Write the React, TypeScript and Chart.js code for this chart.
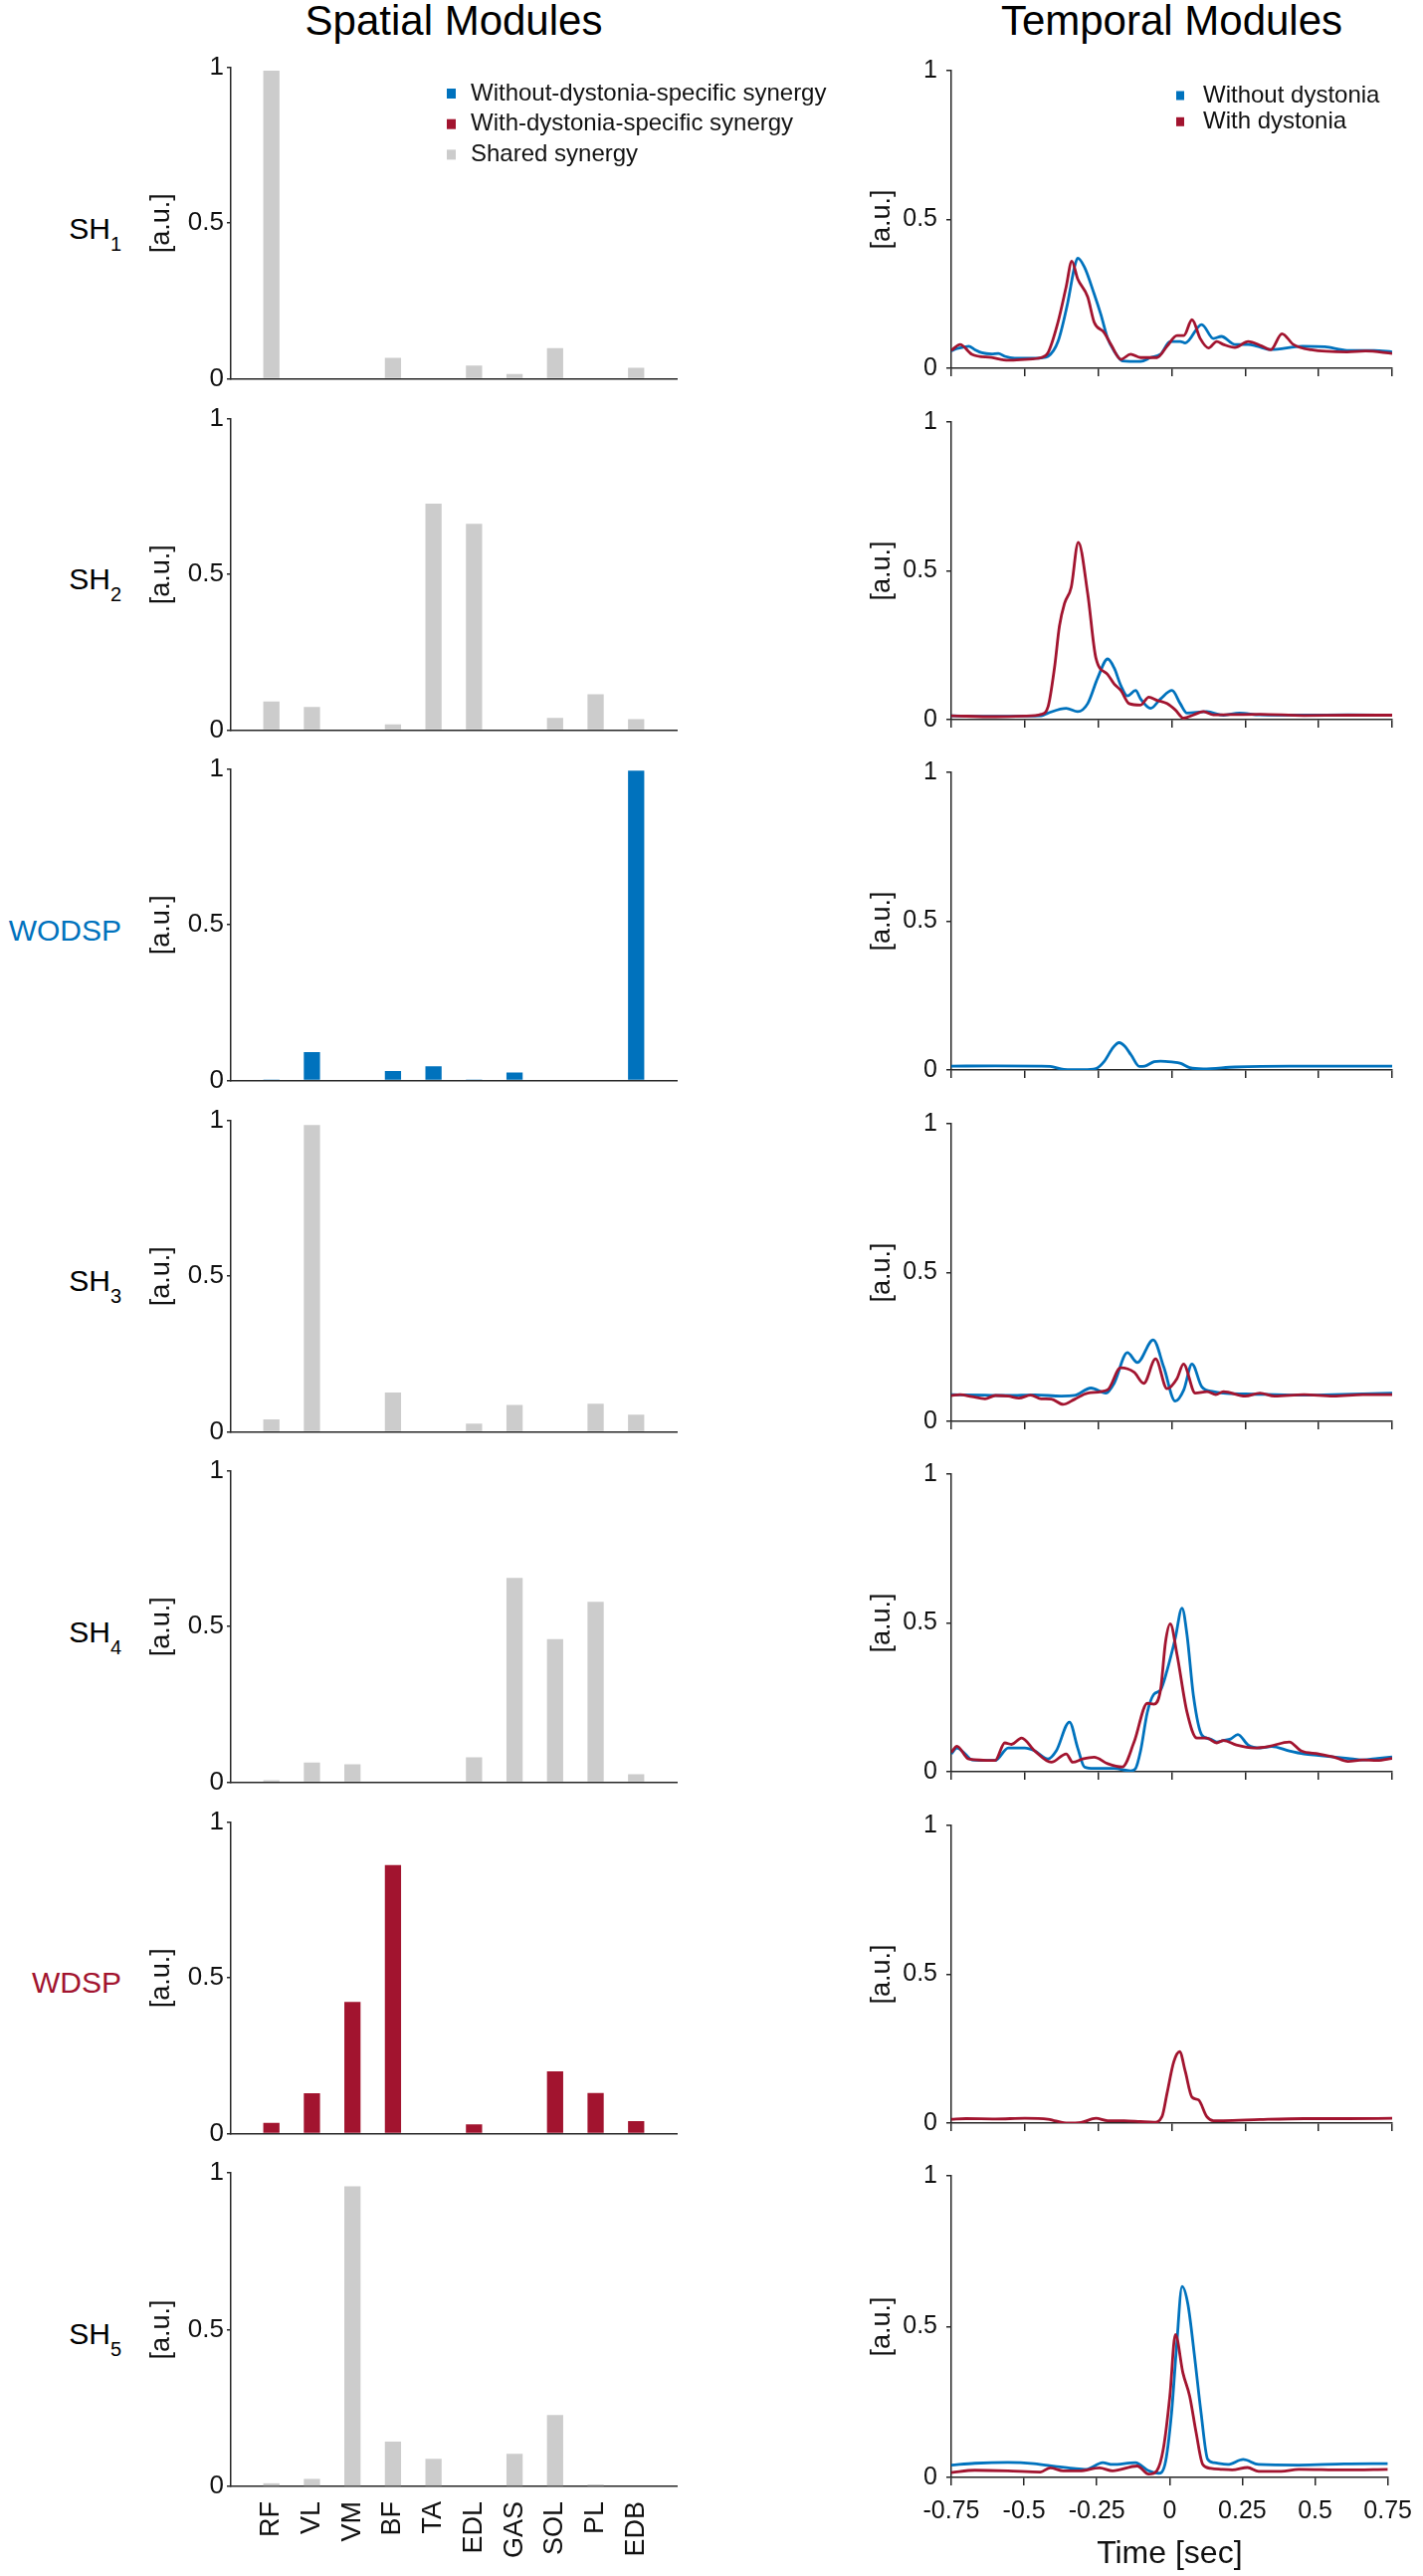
import React, { useEffect, useRef } from 'react';
import { Chart, registerables } from 'chart.js';

Chart.register(...registerables);

const FONT = '"Liberation Sans", Arial, Helvetica, sans-serif';
const BLUE = '#0072BD';
const RED = '#A2142F';
const GRAY = '#CCCCCC';
const AXIS = '#262626';
const TEXT = '#111111';

// ---------- categories & ticks ----------
const MUSCLES = ['RF', 'VL', 'VM', 'BF', 'TA', 'EDL', 'GAS', 'SOL', 'PL', 'EDB'];
const Y_TICKS = [0, 0.5, 1];
const T_TICKS = [-0.75, -0.5, -0.25, 0, 0.25, 0.5, 0.75];

// ---------- spatial modules (weights per muscle) ----------
const SH1_W = [0.99, 0, 0, 0.067, 0, 0.042, 0.015, 0.098, 0, 0.035];
const SH2_W = [0.092, 0.074, 0, 0.018, 0.728, 0.663, 0, 0.039, 0.115, 0.035];
const WODSP_W = [0.003, 0.091, 0, 0.03, 0.045, 0.003, 0.025, 0, 0.002, 0.996];
const SH3_W = [0.04, 0.986, 0, 0.126, 0, 0.026, 0.086, 0, 0.09, 0.055];
const SH4_W = [0.006, 0.063, 0.057, 0, 0, 0.08, 0.657, 0.46, 0.58, 0.025];
const WDSP_W = [0.034, 0.129, 0.423, 0.863, 0, 0.029, 0, 0.2, 0.13, 0.04];
const SH5_W = [0.01, 0.024, 0.957, 0.143, 0.088, 0, 0.104, 0.228, 0.006, 0];

// ---------- temporal modules ([time sec, activation]) ----------
const SH1_BLUE = [[-0.75,0.058],[-0.731,0.066],[-0.703,0.072],[-0.691,0.074],[-0.669,0.062],[-0.646,0.052],[-0.613,0.048],[-0.59,0.05],[-0.568,0.04],[-0.534,0.034],[-0.5,0.034],[-0.466,0.034],[-0.444,0.035],[-0.421,0.04],[-0.387,0.09],[-0.354,0.22],[-0.331,0.34],[-0.32,0.37],[-0.297,0.34],[-0.264,0.25],[-0.241,0.18],[-0.218,0.1],[-0.196,0.058],[-0.168,0.025],[-0.106,0.023],[-0.072,0.036],[-0.038,0.047],[-0.005,0.09],[0.029,0.09],[0.046,0.085],[0.102,0.147],[0.142,0.1],[0.169,0.107],[0.215,0.08],[0.26,0.08],[0.291,0.074],[0.337,0.063],[0.444,0.074],[0.521,0.072],[0.597,0.06],[0.689,0.06],[0.75,0.055]];
const SH1_RED = [[-0.75,0.06],[-0.72,0.08],[-0.68,0.047],[-0.613,0.036],[-0.556,0.027],[-0.5,0.03],[-0.444,0.036],[-0.421,0.052],[-0.387,0.155],[-0.359,0.275],[-0.34,0.36],[-0.32,0.3],[-0.286,0.24],[-0.264,0.155],[-0.23,0.12],[-0.207,0.08],[-0.173,0.03],[-0.14,0.047],[-0.106,0.036],[-0.05,0.036],[-0.016,0.074],[0.018,0.11],[0.041,0.11],[0.069,0.163],[0.097,0.1],[0.125,0.068],[0.153,0.09],[0.176,0.08],[0.215,0.07],[0.26,0.09],[0.306,0.075],[0.337,0.062],[0.375,0.116],[0.414,0.08],[0.475,0.062],[0.597,0.055],[0.659,0.058],[0.75,0.05]];

const SH2_BLUE = [[-0.75,0.013],[-0.6,0.011],[-0.5,0.012],[-0.444,0.013],[-0.421,0.022],[-0.359,0.038],[-0.32,0.027],[-0.286,0.054],[-0.252,0.14],[-0.218,0.204],[-0.196,0.174],[-0.173,0.114],[-0.151,0.08],[-0.123,0.098],[-0.106,0.07],[-0.072,0.038],[-0.038,0.07],[0.001,0.098],[0.029,0.054],[0.052,0.022],[0.119,0.027],[0.176,0.015],[0.23,0.022],[0.3,0.016],[0.45,0.015],[0.6,0.016],[0.75,0.015]];
const SH2_RED = [[-0.75,0.013],[-0.6,0.01],[-0.5,0.012],[-0.444,0.018],[-0.421,0.043],[-0.399,0.174],[-0.382,0.315],[-0.365,0.39],[-0.342,0.445],[-0.318,0.596],[-0.286,0.424],[-0.258,0.207],[-0.218,0.152],[-0.196,0.12],[-0.173,0.098],[-0.145,0.054],[-0.106,0.049],[-0.078,0.076],[-0.05,0.065],[-0.016,0.054],[0.012,0.033],[0.041,0.005],[0.074,0.016],[0.108,0.027],[0.142,0.016],[0.2,0.017],[0.3,0.018],[0.45,0.014],[0.6,0.015],[0.75,0.015]];

const WODSP_BLUE = [[-0.75,0.013],[-0.6,0.014],[-0.45,0.013],[-0.413,0.012],[-0.367,0.002],[-0.3,0.001],[-0.258,0.005],[-0.229,0.03],[-0.2,0.075],[-0.179,0.092],[-0.16,0.08],[-0.138,0.05],[-0.11,0.012],[-0.092,0.013],[-0.06,0.028],[-0.038,0.03],[0.0,0.027],[0.031,0.022],[0.061,0.008],[0.107,0.004],[0.215,0.01],[0.4,0.013],[0.6,0.013],[0.75,0.013]];

const SH3_BLUE = [[-0.75,0.09],[-0.635,0.088],[-0.556,0.087],[-0.466,0.089],[-0.376,0.085],[-0.331,0.087],[-0.275,0.112],[-0.224,0.095],[-0.196,0.128],[-0.151,0.231],[-0.117,0.198],[-0.063,0.274],[-0.027,0.182],[0.012,0.068],[0.041,0.106],[0.069,0.193],[0.102,0.117],[0.142,0.1],[0.176,0.095],[0.25,0.092],[0.35,0.09],[0.45,0.088],[0.55,0.09],[0.65,0.092],[0.75,0.095]];
const SH3_RED = [[-0.75,0.087],[-0.72,0.09],[-0.68,0.083],[-0.635,0.076],[-0.6,0.087],[-0.556,0.085],[-0.52,0.078],[-0.48,0.088],[-0.444,0.076],[-0.41,0.075],[-0.37,0.057],[-0.331,0.074],[-0.286,0.095],[-0.218,0.106],[-0.174,0.18],[-0.128,0.165],[-0.095,0.128],[-0.055,0.21],[-0.016,0.11],[0.018,0.144],[0.04,0.193],[0.08,0.095],[0.12,0.1],[0.15,0.09],[0.176,0.1],[0.25,0.085],[0.3,0.095],[0.35,0.085],[0.45,0.09],[0.55,0.085],[0.65,0.09],[0.75,0.09]];

const SH4_BLUE = [[-0.75,0.06],[-0.731,0.08],[-0.703,0.06],[-0.68,0.04],[-0.601,0.038],[-0.556,0.08],[-0.5,0.08],[-0.466,0.07],[-0.421,0.043],[-0.393,0.07],[-0.348,0.167],[-0.32,0.08],[-0.297,0.016],[-0.264,0.011],[-0.196,0.011],[-0.14,0.003],[-0.123,0.011],[-0.106,0.07],[-0.083,0.2],[-0.061,0.26],[-0.038,0.275],[-0.016,0.34],[0.012,0.448],[0.035,0.55],[0.052,0.46],[0.074,0.254],[0.102,0.124],[0.131,0.11],[0.153,0.1],[0.176,0.105],[0.2,0.11],[0.225,0.125],[0.26,0.09],[0.3,0.08],[0.34,0.085],[0.4,0.07],[0.45,0.06],[0.5,0.055],[0.55,0.05],[0.6,0.045],[0.65,0.04],[0.7,0.045],[0.75,0.05]];
const SH4_RED = [[-0.75,0.065],[-0.731,0.086],[-0.691,0.043],[-0.601,0.038],[-0.568,0.097],[-0.545,0.092],[-0.511,0.113],[-0.466,0.07],[-0.41,0.032],[-0.359,0.06],[-0.337,0.032],[-0.303,0.043],[-0.264,0.049],[-0.218,0.027],[-0.168,0.016],[-0.128,0.1],[-0.083,0.23],[-0.061,0.227],[-0.038,0.275],[-0.021,0.437],[-0.005,0.497],[0.018,0.394],[0.052,0.2],[0.086,0.113],[0.119,0.113],[0.153,0.097],[0.176,0.105],[0.22,0.09],[0.28,0.08],[0.33,0.085],[0.4,0.1],[0.44,0.07],[0.5,0.06],[0.55,0.05],[0.6,0.035],[0.65,0.04],[0.7,0.038],[0.75,0.045]];

const WDSP_RED = [[-0.75,0.013],[-0.7,0.015],[-0.6,0.014],[-0.5,0.016],[-0.421,0.013],[-0.399,0.008],[-0.354,0.0],[-0.309,0.002],[-0.258,0.016],[-0.218,0.008],[-0.162,0.008],[-0.106,0.005],[-0.061,0.003],[-0.033,0.022],[-0.016,0.1],[0.007,0.206],[0.027,0.24],[0.046,0.174],[0.069,0.087],[0.091,0.078],[0.119,0.022],[0.142,0.008],[0.176,0.008],[0.3,0.012],[0.45,0.015],[0.6,0.015],[0.75,0.016]];

const SH5_BLUE = [[-0.75,0.041],[-0.669,0.047],[-0.556,0.05],[-0.466,0.046],[-0.387,0.036],[-0.331,0.03],[-0.286,0.027],[-0.23,0.049],[-0.196,0.043],[-0.117,0.049],[-0.072,0.022],[-0.038,0.014],[-0.016,0.043],[0.007,0.216],[0.024,0.433],[0.043,0.633],[0.063,0.574],[0.086,0.4],[0.108,0.216],[0.131,0.06],[0.153,0.049],[0.2,0.043],[0.253,0.06],[0.306,0.043],[0.444,0.041],[0.6,0.045],[0.75,0.046]];
const SH5_RED = [[-0.75,0.016],[-0.669,0.024],[-0.556,0.022],[-0.444,0.018],[-0.41,0.032],[-0.365,0.022],[-0.309,0.022],[-0.241,0.032],[-0.196,0.022],[-0.111,0.038],[-0.072,0.011],[-0.044,0.022],[-0.021,0.097],[0.001,0.27],[0.02,0.474],[0.046,0.346],[0.069,0.27],[0.091,0.15],[0.114,0.043],[0.142,0.03],[0.176,0.027],[0.215,0.025],[0.268,0.033],[0.306,0.02],[0.383,0.02],[0.444,0.027],[0.6,0.025],[0.75,0.027]];

// ---------- legends ----------
const SPATIAL_LEGEND = [
  { text: 'Without-dystonia-specific synergy', color: BLUE },
  { text: 'With-dystonia-specific synergy', color: RED },
  { text: 'Shared synergy', color: GRAY },
];
const TEMPORAL_LEGEND = [
  { text: 'Without dystonia', color: BLUE },
  { text: 'With dystonia', color: RED },
];

type Curve = { pts: number[][]; color: string };
type Row = { name: string; sub: string; nameColor: string; weights: number[]; barColor: string; curves: Curve[] };

const ROWS: Row[] = [
  { name: 'SH', sub: '1', nameColor: '#000', weights: SH1_W, barColor: GRAY, curves: [{ pts: SH1_BLUE, color: BLUE }, { pts: SH1_RED, color: RED }] },
  { name: 'SH', sub: '2', nameColor: '#000', weights: SH2_W, barColor: GRAY, curves: [{ pts: SH2_BLUE, color: BLUE }, { pts: SH2_RED, color: RED }] },
  { name: 'WODSP', sub: '', nameColor: BLUE, weights: WODSP_W, barColor: BLUE, curves: [{ pts: WODSP_BLUE, color: BLUE }] },
  { name: 'SH', sub: '3', nameColor: '#000', weights: SH3_W, barColor: GRAY, curves: [{ pts: SH3_BLUE, color: BLUE }, { pts: SH3_RED, color: RED }] },
  { name: 'SH', sub: '4', nameColor: '#000', weights: SH4_W, barColor: GRAY, curves: [{ pts: SH4_BLUE, color: BLUE }, { pts: SH4_RED, color: RED }] },
  { name: 'WDSP', sub: '', nameColor: RED, weights: WDSP_W, barColor: RED, curves: [{ pts: WDSP_RED, color: RED }] },
  { name: 'SH', sub: '5', nameColor: '#000', weights: SH5_W, barColor: GRAY, curves: [{ pts: SH5_BLUE, color: BLUE }, { pts: SH5_RED, color: RED }] },
];

// ---------- layout (page px) ----------
const PITCH = 352.5;
const L_TOP0 = 68;
const L_H = 315;
const L_AXIS_X = 232;
const L_AXIS_END = 680;
const R_TOP0 = 67;
const R_H = 307;
const R_AXIS_X = 956;
const R_AXIS_END = 1399;
const PAD_TOP = 20;
const Y_AXIS_W = 102;
const PAGE_W = 1430;
const PAGE_H = 2588;
const L_CANVAS_RIGHT = 850;

const boxLegendPlugin = {
  id: 'boxLegend',
  afterDraw(chart: any, _args: any, opts: any) {
    if (!opts || !opts.items) return;
    const { ctx, chartArea } = chart;
    ctx.save();
    ctx.font = `${opts.fontSize}px ${FONT}`;
    ctx.textBaseline = 'middle';
    ctx.textAlign = 'left';
    opts.items.forEach((it: any, i: number) => {
      const cy = chartArea.top + opts.y0 + i * opts.gap;
      ctx.fillStyle = it.color;
      ctx.fillRect(chartArea.left + opts.boxX, cy - opts.boxH / 2, opts.boxW, opts.boxH);
      ctx.fillStyle = TEXT;
      ctx.fillText(it.text, chartArea.left + opts.textX, cy);
    });
    ctx.restore();
  },
};

const yScale = (tickLen: number, tickPad: number, size: number) => ({
  type: 'linear',
  min: 0,
  max: 1,
  afterBuildTicks: (s: any) => {
    s.ticks = Y_TICKS.map((v) => ({ value: v }));
  },
  afterFit: (s: any) => {
    s.width = Y_AXIS_W;
  },
  ticks: {
    padding: tickPad,
    color: TEXT,
    font: { family: FONT, size },
    callback: (v: any) => String(v),
  },
  grid: { display: true, drawOnChartArea: false, drawTicks: true, tickLength: tickLen, color: AXIS, lineWidth: 1.5 },
  border: { display: true, color: AXIS, width: 1.5 },
  title: { display: true, text: '[a.u.]', color: TEXT, font: { family: FONT, size: 27 }, padding: { top: 16, bottom: 0 } },
});

function BarPanel({ row, index, last }: { row: Row; index: number; last: boolean }) {
  const ref = useRef<HTMLCanvasElement>(null);
  const xh = last ? PAGE_H - (L_TOP0 + index * PITCH + L_H) : 16;
  const top = L_TOP0 + index * PITCH - PAD_TOP;
  const height = PAD_TOP + L_H + xh;
  const left = L_AXIS_X - Y_AXIS_W;
  const width = L_CANVAS_RIGHT - left;
  useEffect(() => {
    const chart = new Chart(ref.current as HTMLCanvasElement, {
      type: 'bar',
      data: {
        labels: ['', ...MUSCLES, ''],
        datasets: [
          {
            data: [null, ...row.weights, null] as any,
            backgroundColor: row.barColor,
            borderWidth: 0,
            categoryPercentage: 1,
            barPercentage: 0.4,
          },
        ],
      },
      options: {
        animation: false,
        responsive: true,
        maintainAspectRatio: false,
        events: [],
        layout: { padding: { top: PAD_TOP, right: L_CANVAS_RIGHT - L_AXIS_END, bottom: 0, left: 0 } },
        plugins: {
          legend: { display: false },
          tooltip: { enabled: false },
          boxLegend: index === 0
            ? { items: SPATIAL_LEGEND, boxX: 217, boxW: 9, boxH: 10, textX: 241, y0: 26, gap: 30.7, fontSize: 24 }
            : {},
        } as any,
        scales: {
          x: {
            type: 'category',
            offset: false,
            afterFit: (s: any) => {
              s.height = xh;
            },
            grid: { display: false, drawTicks: false, drawOnChartArea: false },
            border: { display: true, color: AXIS, width: 1.5 },
            ticks: {
              display: last,
              autoSkip: false,
              minRotation: 90,
              maxRotation: 90,
              padding: 15,
              color: TEXT,
              font: { family: FONT, size: 27 },
            },
          },
          y: yScale(4, 3, 26),
        } as any,
      },
      plugins: [boxLegendPlugin as any],
    });
    return () => chart.destroy();
  }, []);
  return (
    <div style={{ position: 'absolute', left, top, width, height }}>
      <canvas ref={ref} />
    </div>
  );
}

function LinePanel({ row, index, last }: { row: Row; index: number; last: boolean }) {
  const ref = useRef<HTMLCanvasElement>(null);
  const xh = last ? PAGE_H - (R_TOP0 + index * PITCH + R_H) : 20;
  const top = R_TOP0 + index * PITCH - PAD_TOP;
  const height = PAD_TOP + R_H + xh;
  const left = R_AXIS_X - Y_AXIS_W;
  const width = PAGE_W - left;
  useEffect(() => {
    const chart = new Chart(ref.current as HTMLCanvasElement, {
      type: 'line',
      data: {
        datasets: row.curves.map((c) => ({
          data: c.pts.map((p) => ({ x: p[0], y: p[1] })),
          borderColor: c.color,
          backgroundColor: c.color,
          borderWidth: 2.8,
          pointRadius: 0,
          fill: false,
          cubicInterpolationMode: 'monotone' as const,
          order: c.color === RED ? 0 : 1,
        })),
      },
      options: {
        animation: false,
        responsive: true,
        maintainAspectRatio: false,
        events: [],
        layout: { padding: { top: PAD_TOP, right: PAGE_W - R_AXIS_END, bottom: 0, left: 0 } },
        plugins: {
          legend: { display: false },
          tooltip: { enabled: false },
          boxLegend: index === 0
            ? { items: TEMPORAL_LEGEND, boxX: 226, boxW: 8, boxH: 9, textX: 253, y0: 25, gap: 26.3, fontSize: 24 }
            : {},
        } as any,
        scales: {
          x: {
            type: 'linear',
            min: -0.75,
            max: 0.75,
            afterBuildTicks: (s: any) => {
              s.ticks = T_TICKS.map((v) => ({ value: v }));
            },
            afterFit: (s: any) => {
              s.height = xh;
            },
            grid: { display: true, drawOnChartArea: false, drawTicks: true, tickLength: 8, color: AXIS, lineWidth: 1.5 },
            border: { display: true, color: AXIS, width: 1.5 },
            ticks: {
              autoSkip: false,
              maxRotation: 0,
              minRotation: 0,
              padding: 11,
              color: TEXT,
              font: { family: FONT, size: 25 },
              callback: (v: any) => (last ? String(Math.round(Number(v) * 100) / 100) : ''),
            },
            title: {
              display: last,
              text: 'Time [sec]',
              color: TEXT,
              font: { family: FONT, size: 32 },
              padding: { top: 0, bottom: 3 },
            },
          },
          y: yScale(5, 9, 25),
        } as any,
      },
      plugins: [boxLegendPlugin as any],
    });
    return () => chart.destroy();
  }, []);
  return (
    <div style={{ position: 'absolute', left, top, width, height }}>
      <canvas ref={ref} />
    </div>
  );
}

function RowLabel({ row, index }: { row: Row; index: number }) {
  const top = L_TOP0 + index * PITCH + 146.6;
  return (
    <div
      style={{
        position: 'absolute',
        left: 0,
        top,
        width: 122,
        textAlign: 'right',
        fontFamily: FONT,
        fontSize: 30,
        lineHeight: '30px',
        color: row.nameColor,
        whiteSpace: 'nowrap',
      }}
    >
      {row.name}
      {row.sub ? (
        <span style={{ fontSize: 20, position: 'relative', top: 12 }}>{row.sub}</span>
      ) : null}
    </div>
  );
}

export default function App() {
  const n = ROWS.length;
  return (
    <div
      style={{
        position: 'absolute',
        left: 0,
        top: 0,
        width: PAGE_W,
        height: PAGE_H,
        background: '#ffffff',
        overflow: 'hidden',
      }}
    >
      <div
        style={{
          position: 'absolute',
          left: (L_AXIS_X + L_AXIS_END) / 2 - 300,
          top: 0,
          width: 600,
          textAlign: 'center',
          fontFamily: FONT,
          fontSize: 42,
          lineHeight: '42px',
          color: '#000',
        }}
      >
        Spatial Modules
      </div>
      <div
        style={{
          position: 'absolute',
          left: (R_AXIS_X + R_AXIS_END) / 2 - 300,
          top: 0,
          width: 600,
          textAlign: 'center',
          fontFamily: FONT,
          fontSize: 42,
          lineHeight: '42px',
          color: '#000',
        }}
      >
        Temporal Modules
      </div>
      {ROWS.map((row, i) => (
        <React.Fragment key={i}>
          <RowLabel row={row} index={i} />
          <BarPanel row={row} index={i} last={i === n - 1} />
          <LinePanel row={row} index={i} last={i === n - 1} />
        </React.Fragment>
      ))}
    </div>
  );
}
